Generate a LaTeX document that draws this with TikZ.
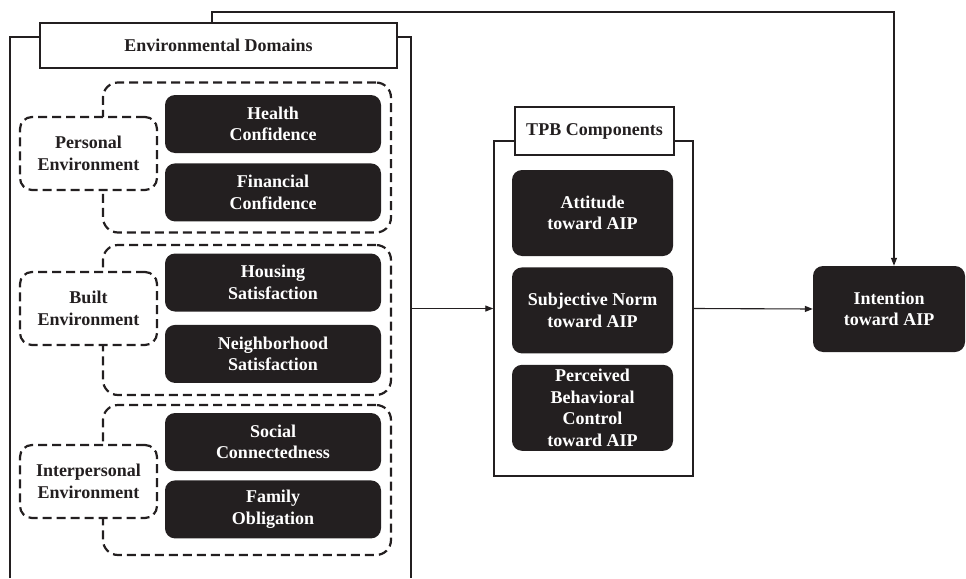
\documentclass[tikz,border=0pt]{standalone}
\usepackage{fontspec}
\setmainfont{Liberation Serif}
\usetikzlibrary{arrows.meta, positioning}
\definecolor{boxblack}{HTML}{231F20}

\begin{document}
\begin{tikzpicture}[x=1pt, y=-1pt, >={Triangle[length=8pt,width=6pt]},
    every node/.style={font=\bfseries\fontsize{18}{21.6}\selectfont, align=center, inner sep=0pt},
    darkbox/.style={rectangle, rounded corners=10pt, fill=boxblack, text=white, minimum width=216pt, minimum height=58pt},
    tpbbox/.style={darkbox, minimum width=161pt, minimum height=86pt},
    groupbox/.style={rectangle, draw=boxblack, line width=2.2pt, dash pattern=on 9pt off 5pt, rounded corners=15pt, minimum width=288pt, minimum height=150pt},
    grouplabel/.style={rectangle, draw=boxblack, fill=white, text=boxblack, line width=2.2pt, dash pattern=on 9pt off 5pt, rounded corners=12pt, minimum width=137pt, minimum height=73pt},
    titlebox/.style={rectangle, draw=boxblack, fill=white, text=boxblack, line width=2.5pt},
    frameline/.style={draw=boxblack, line width=2pt},
    link/.style={->, draw=boxblack, line width=1.1pt}]

    \useasboundingbox (0,0) rectangle (966,578);

    \draw[frameline] (10,578) -- (10,37) -- (411,37) -- (411,578);
    \node[titlebox, minimum width=357pt, minimum height=45pt] (envtitle) at (218.5,45.5) {Environmental Domains};

    \node[groupbox] (personalgrp) at (247,157.5) {};
    \node[groupbox] (builtgrp) at (247,320) {};
    \node[groupbox] (interpgrp) at (247,480) {};

    \node[grouplabel] (personal) at (88.5,153.5) {Personal\\Environment};
    \node[grouplabel] (built) at (88.5,308.5) {Built\\Environment};
    \node[grouplabel] (interp) at (88.5,481.5) {Interpersonal\\Environment};

    \node[darkbox] (health) at (273,124) {Health\\Confidence};
    \node[darkbox] (financial) [below=10pt of health] {Financial\\Confidence};
    \node[darkbox] (housing) at (273,282.5) {Housing\\Satisfaction};
    \node[darkbox] (neighbor) [below=13pt of housing] {Neighborhood\\Satisfaction};
    \node[darkbox] (social) at (273,442) {Social\\Connectedness};
    \node[darkbox] (family) [below=9pt of social] {Family\\Obligation};

    \node[rectangle, draw=boxblack, line width=1.5pt, minimum width=199pt, minimum height=335pt] (tpb) at (593.5,308.5) {};
    \node[titlebox, minimum width=159pt, minimum height=48pt] (tpbtitle) at (594.5,131) {TPB Components};

    \node[tpbbox] (attitude) at (592.5,213) {Attitude\\toward AIP};
    \node[tpbbox] (norm) [below=11pt of attitude] {Subjective Norm\\toward AIP};
    \node[tpbbox] (control) [below=11pt of norm] {Perceived\\Behavioral\\Control\\toward AIP};

    \node[darkbox, minimum width=152pt, minimum height=86pt] (intention) at (889,309) {Intention\\toward AIP};

    \coordinate (envout) at (411,308.5);
    \coordinate (topturn) at (894,12);

    \draw[link] (envout) -- (tpb.west);
    \draw[link] (tpb.east) -- (intention.west);
    \draw[link] ([xshift=-6.5pt]envtitle.north) |- (topturn) -- (topturn |- intention.north);
\end{tikzpicture}
\end{document}
